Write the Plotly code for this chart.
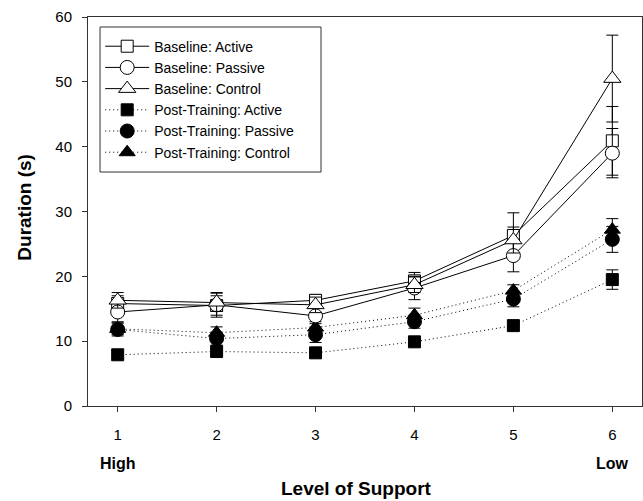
import plotly.graph_objects as go

levels = [1, 2, 3, 4, 5, 6]
tick_text = ["1", "2", "3", "4", "5", "6"]

base_active = [15.8, 15.5, 16.3, 19.3, 26.3, 40.9]
base_active_err = [1.2, 1.5, 0.9, 1.3, 3.5, 5.3]
base_passive = [14.5, 15.6, 13.9, 18.2, 23.2, 39.0]
base_passive_err = [1.5, 1.9, 1.2, 1.8, 2.5, 3.8]
base_control = [16.3, 16.0, 15.6, 18.7, 25.6, 50.5]
base_control_err = [1.2, 1.4, 1.2, 1.2, 2.0, 6.7]

post_active = [7.9, 8.4, 8.2, 9.9, 12.4, 19.5]
post_active_err = [0.6, 0.6, 0.5, 0.6, 0.6, 1.5]
post_passive = [11.8, 10.4, 11.0, 13.0, 16.5, 25.7]
post_passive_err = [1.0, 1.0, 1.2, 1.0, 1.2, 2.0]
post_control = [11.9, 11.3, 12.1, 14.0, 17.8, 27.2]
post_control_err = [0.9, 0.9, 0.9, 1.1, 0.9, 1.7]

FONT = "Liberation Sans, Arial, sans-serif"

series = [
    ("Post-Training: Active", post_active, post_active_err, "square", "black", 12, "1px,3px"),
    ("Post-Training: Passive", post_passive, post_passive_err, "circle", "black", 14, "1px,3px"),
    ("Post-Training: Control", post_control, post_control_err, "triangle-up", "black", 14, "1px,3px"),
    ("Baseline: Active", base_active, base_active_err, "square", "white", 12, "solid"),
    ("Baseline: Passive", base_passive, base_passive_err, "circle", "white", 14, "solid"),
    ("Baseline: Control", base_control, base_control_err, "triangle-up", "white", 15, "solid"),
]
legend_rank = {
    "Baseline: Active": 1, "Baseline: Passive": 2, "Baseline: Control": 3,
    "Post-Training: Active": 4, "Post-Training: Passive": 5, "Post-Training: Control": 6,
}

fig = go.Figure()
for name, vals, errs, sym, fill, size, dash in series:
    fig.add_trace(go.Scatter(
        x=levels, y=vals, name=name, mode="lines+markers",
        line=dict(color="black", width=1, dash=dash),
        marker=dict(symbol=sym, size=size, color=fill, line=dict(color="black", width=1)),
        error_y=dict(type="data", array=errs, visible=True, color="black", thickness=1, width=6),
        legendrank=legend_rank[name],
    ))

axis_common = dict(showline=True, linecolor="#333", linewidth=1, mirror=True,
                   ticks="outside", ticklen=5, tickcolor="#333", showgrid=False,
                   zeroline=False, tickfont=dict(family=FONT, size=15, color="black"))

fig.update_layout(
    width=643, height=501,
    margin=dict(l=88, r=1, t=17, b=95),
    paper_bgcolor="white", plot_bgcolor="white",
    showlegend=True,
    legend=dict(x=0.022, y=0.965, xanchor="left", yanchor="top",
                bgcolor="rgba(0,0,0,0)", borderwidth=0,
                font=dict(family=FONT, size=14, color="black"),
                itemwidth=44, traceorder="normal"),
    shapes=[dict(type="rect", xref="paper", yref="paper",
                 x0=0.0217, x1=0.4206, y0=0.6015, y1=0.9743,
                 line=dict(color="#333", width=1), fillcolor="rgba(0,0,0,0)")],
    xaxis=dict(range=[0.7, 6.3], tickvals=levels, ticktext=tick_text,
               ticklabelstandoff=10, **axis_common),
    yaxis=dict(range=[0, 60], dtick=10, ticklabelstandoff=7, **axis_common),
    annotations=[
        dict(text="<b>High</b>", x=1, y=-0.149, xref="x", yref="paper",
             showarrow=False, xanchor="center", yanchor="middle",
             font=dict(family=FONT, size=16, color="black")),
        dict(text="<b>Low</b>", x=6, y=-0.149, xref="x", yref="paper",
             showarrow=False, xanchor="center", yanchor="middle",
             font=dict(family=FONT, size=16, color="black")),
        dict(text="<b>Level of Support</b>", x=0.484, y=-0.213, xref="paper", yref="paper",
             showarrow=False, xanchor="center", yanchor="middle",
             font=dict(family=FONT, size=19, color="black")),
        dict(text="<b>Duration (s)</b>", x=-0.114, y=0.512, xref="paper", yref="paper",
             showarrow=False, xanchor="center", yanchor="middle", textangle=-90,
             font=dict(family=FONT, size=19, color="black")),
    ],
)

fig.write_html("out.html", config={"displayModeBar": False},
               post_script="document.body.style.margin='0';document.body.style.padding='0';")
